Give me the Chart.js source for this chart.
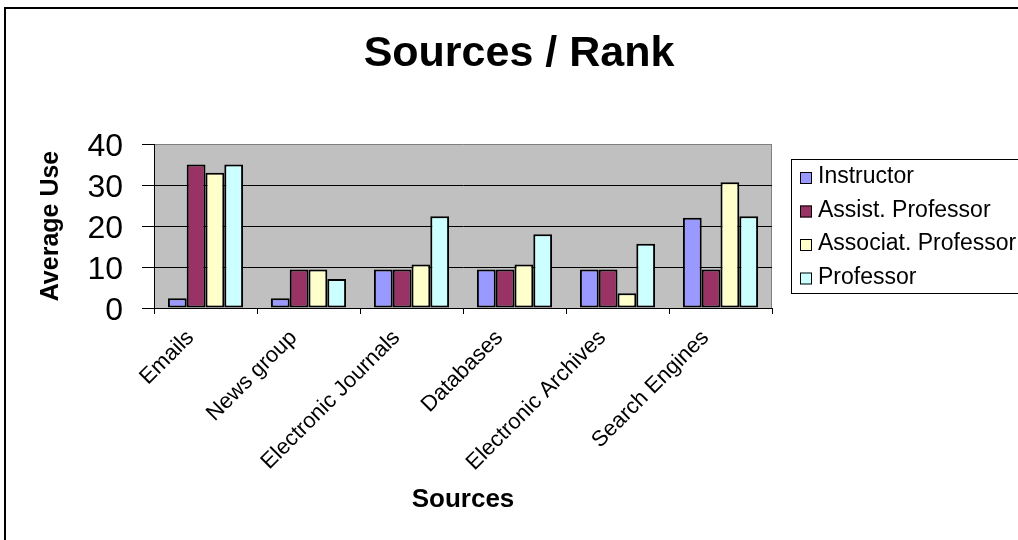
<!DOCTYPE html>
<html>
<head>
<meta charset="utf-8">
<title>Sources / Rank</title>
<script src="https://cdn.jsdelivr.net/npm/chart.js@4"></script>
<style>
  body { margin: 0; background: #fff; }
  #wrap { position: relative; width: 1018px; height: 540px; overflow: hidden; }
  #frame { position: absolute; left: 4px; top: 7px; width: 1100px; height: 600px; border-left: 2px solid #000; border-top: 2px solid #000; }
  canvas { position: absolute; left: 0; top: 0; }
</style>
</head>
<body>
<div id="wrap">
  <div id="frame"></div>
  <canvas id="rankChart" width="1018" height="540"></canvas>
</div>
<script>
// categories and per-rank average use
const categories = ['Emails', 'News group', 'Electronic Journals', 'Databases', 'Electronic Archives', 'Search Engines'];
const seriesNames = ['Instructor', 'Assist. Professor', 'Associat. Professor', 'Professor'];
const instructor = [2.4, 2.4, 9.4, 9.4, 9.4, 22.0];
const assistProfessor = [35, 9.4, 9.4, 9.4, 9.4, 9.4];
const associatProfessor = [33, 9.4, 10.6, 10.6, 3.6, 30.7];
const professor = [35, 7.1, 22.4, 18.0, 15.7, 22.4];
const yTicks = [0, 10, 20, 30, 40];

const colors = ['#9999FF', '#993366', '#FFFFCC', '#CCFFFF'];
const FONT = '"Liberation Sans", Arial, sans-serif';

// Gray plot background plus gray right edge
const plotBackground = {
  id: 'plotBackground',
  beforeDraw(chart) {
    const { ctx, chartArea: a } = chart;
    ctx.save();
    ctx.fillStyle = '#C0C0C0';
    ctx.fillRect(a.left, a.top, a.right - a.left, a.bottom - a.top);
    ctx.strokeStyle = '#808080';
    ctx.lineWidth = 1;
    ctx.beginPath();
    ctx.moveTo(a.right - 0.5, a.top);
    ctx.lineTo(a.right - 0.5, a.bottom);
    ctx.stroke();
    ctx.restore();
  }
};

// Boxed legend on the right
const boxLegend = {
  id: 'boxLegend',
  afterDraw(chart) {
    const { ctx } = chart;
    const left = 791, top = 159, bottom = 293;
    ctx.save();
    ctx.strokeStyle = '#000';
    ctx.lineWidth = 1;
    ctx.strokeRect(left + 0.5, top + 0.5, 1018 - left + 5, bottom - top);
    ctx.font = '23px ' + FONT;
    ctx.textBaseline = 'middle';
    chart.data.datasets.forEach((ds, i) => {
      const cy = 177 + i * 33.5;
      ctx.fillStyle = ds.backgroundColor;
      ctx.fillRect(800, cy - 5, 12, 12);
      ctx.strokeRect(800.5, cy - 4.5, 11, 11);
      ctx.fillStyle = '#000';
      ctx.fillText(ds.label, 818, cy);
    });
    ctx.restore();
  }
};

const seriesData = [instructor, assistProfessor, associatProfessor, professor];

new Chart(document.getElementById('rankChart').getContext('2d'), {
  type: 'bar',
  data: {
    labels: categories,
    datasets: seriesNames.map((name, i) => ({
      label: name,
      data: seriesData[i],
      backgroundColor: colors[i],
      borderColor: '#000',
      borderWidth: 2,
      borderSkipped: false,
      categoryPercentage: 0.73,
      barPercentage: 1.0
    }))
  },
  options: {
    responsive: false,
    animation: false,
    layout: { padding: { left: 20, top: 8, right: 0, bottom: 0 } },
    plugins: {
      legend: { display: false },
      tooltip: { enabled: false },
      title: {
        display: true,
        text: 'Sources / Rank',
        color: '#000',
        font: { family: FONT, size: 43, weight: 'bold' },
        padding: { top: 20, bottom: 64.4 }
      }
    },
    scales: {
      x: {
        offset: true,
        grid: { display: true, drawOnChartArea: false, drawTicks: true, tickLength: 6, color: '#000', offset: true },
        border: { color: '#000', width: 1 },
        ticks: {
          color: '#000',
          autoSkip: false,
          minRotation: 45,
          maxRotation: 45,
          padding: 11,
          labelOffset: -15,
          font: { family: FONT, size: 22 }
        },
        title: {
          display: true,
          text: 'Sources',
          color: '#000',
          font: { family: FONT, size: 26, weight: 'bold' },
          padding: { top: 0, bottom: 25 }
        },
        afterFit(scale) { scale.height = 232; }
      },
      y: {
        min: 0,
        max: 40,
        afterBuildTicks(scale) { scale.ticks = yTicks.map(v => ({ value: v })); },
        grid: {
          color: c => (c.tick && c.tick.value === 40 ? '#808080' : '#000'),
          tickColor: '#000',
          tickLength: 12,
          lineWidth: 1
        },
        border: { color: '#000', width: 1 },
        ticks: { color: '#000', autoSkip: false, padding: 19, labelOffset: 3, font: { family: FONT, size: 32 } },
        title: {
          display: true,
          text: 'Average Use',
          color: '#000',
          font: { family: FONT, size: 25, weight: 'bold' },
          padding: { top: 16, bottom: 0 }
        },
        afterFit(scale) { scale.width = 134; }
      },
      // empty right-hand axis reserves the legend column
      side: {
        type: 'linear',
        position: 'right',
        display: true,
        grid: { display: false },
        border: { display: false },
        ticks: { display: false },
        afterFit(scale) { scale.width = 246; }
      }
    }
  },
  plugins: [plotBackground, boxLegend]
});
</script>
</body>
</html>
